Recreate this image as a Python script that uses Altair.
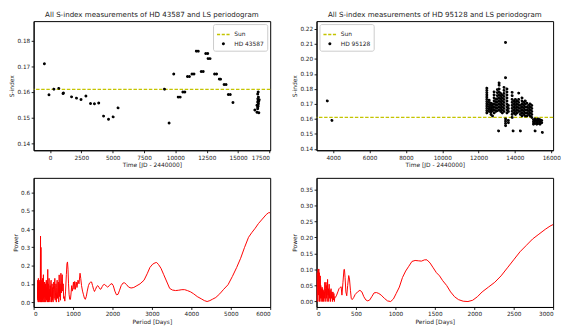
import altair as alt
import pandas as pd

FONT = "DejaVu Sans"
SUN_S = 0.161
SUN_COLOR = "#c4c400"

# ---------------- HD 43587 S-index measurements ----------------
star1 = "HD 43587"
t1 = [-446, -78, 313, 705, 1041, 1070, 1723, 2114, 2474, 2866, 3234, 3547, 3884,
      4275, 4667, 5035, 5426, 9130, 9498, 9866, 10226, 10383, 10594, 10750,
      10962, 11119, 11322, 11479, 11667, 11823, 12058, 12215, 12418, 12575,
      12606, 12763, 13123, 13280, 13500, 13600, 13883, 14039, 14220, 14376,
      14587, 16600, 16560, 16570, 16600, 16560, 16620, 16500, 16560, 16333,
      16500, 16650, 16620, 16640, 16600, 16560, 16680]
s1 = [0.1710, 0.1589, 0.1611, 0.1614, 0.1594, 0.1596, 0.1581, 0.1576, 0.1571,
      0.1584, 0.1555, 0.1554, 0.1557, 0.1506, 0.1494, 0.1503, 0.1538, 0.1611,
      0.1479, 0.1670, 0.1580, 0.1580, 0.1600, 0.1600, 0.1660, 0.1660, 0.1670,
      0.1670, 0.1759, 0.1759, 0.1680, 0.1680, 0.1750, 0.1750, 0.1730, 0.1730,
      0.1670, 0.1670, 0.1650, 0.1650, 0.1629, 0.1629, 0.1590, 0.1590, 0.1559,
      0.1600, 0.1592, 0.1573, 0.1567, 0.1561, 0.1554, 0.1548, 0.1541, 0.1530,
      0.1521, 0.1519, 0.1580, 0.1563, 0.1545, 0.1535, 0.1570]

# ---------------- HD 95128 S-index measurements ----------------
star2 = "HD 95128"
cols2 = [
    (3675, [0.172]),
    (3930, [0.159]),
    (12455, [0.164, 0.1655, 0.167, 0.1685, 0.170, 0.1715, 0.173, 0.1745, 0.176, 0.1775, 0.179, 0.1805]),
    (12585, [0.165, 0.1665, 0.168, 0.1695, 0.171, 0.1725]),
    (12680, [0.163, 0.1645, 0.166, 0.1675, 0.169, 0.1705]),
    (12765, [0.162, 0.1655, 0.167, 0.1685, 0.170]),
    (12855, [0.164, 0.166, 0.168, 0.170, 0.172, 0.174, 0.176, 0.178]),
    (12950, [0.165, 0.167, 0.169, 0.171, 0.173]),
    (13035, [0.1655, 0.1675, 0.1695, 0.1715, 0.1735, 0.1755, 0.1775, 0.1795]),
    (13100, [0.152]),
    (13130, [0.166, 0.168, 0.170, 0.172, 0.174, 0.176, 0.178, 0.180, 0.1825, 0.184]),
    (13215, [0.165, 0.167, 0.169, 0.171, 0.173, 0.175, 0.177]),
    (13306, [0.164, 0.166, 0.168, 0.170, 0.172, 0.174, 0.176]),
    (13400, [0.165, 0.167, 0.169, 0.171, 0.173, 0.175, 0.177, 0.179, 0.181]),
    (13485, [0.211, 0.1875, 0.157, 0.1585, 0.1555, 0.160]),
    (13560, [0.164, 0.166, 0.168, 0.170, 0.172, 0.174, 0.176, 0.178, 0.180]),
    (13640, [0.1575, 0.159, 0.165, 0.167, 0.169]),
    (13848, [0.161, 0.163, 0.165, 0.167, 0.169, 0.171, 0.173, 0.1755, 0.1777]),
    (13900, [0.152]),
    (13940, [0.164, 0.166, 0.168, 0.170, 0.172]),
    (14030, [0.163, 0.165, 0.167, 0.169, 0.171, 0.173]),
    (14120, [0.164, 0.166, 0.168, 0.170, 0.172]),
    (14210, [0.1772, 0.165, 0.167, 0.169, 0.171, 0.173]),
    (14300, [0.152, 0.163, 0.165, 0.167, 0.169]),
    (14390, [0.162, 0.164, 0.166, 0.168, 0.170, 0.172, 0.174]),
    (14480, [0.163, 0.165, 0.167, 0.169, 0.171]),
    (14570, [0.162, 0.164, 0.166, 0.168, 0.170, 0.172]),
    (14660, [0.162, 0.164, 0.166, 0.168, 0.1705]),
    (14750, [0.163, 0.165, 0.167, 0.169]),
    (14840, [0.162, 0.164, 0.166, 0.168, 0.170]),
    (14930, [0.161, 0.163, 0.165, 0.167, 0.169]),
    (15020, [0.1565, 0.158, 0.1595]),
    (15110, [0.152, 0.157, 0.1585, 0.160]),
    (15200, [0.1565, 0.158, 0.1595]),
    (15290, [0.157, 0.1585, 0.160]),
    (15380, [0.1565, 0.158, 0.1595]),
    (15475, [0.1575, 0.159]),
    (15510, [0.151]),
]
t2 = [c[0] for c in cols2 for _ in c[1]]
s2 = [v for c in cols2 for v in c[1]]

# ---------------- LS periodogram HD 43587 ----------------
per1 = [100, 104, 108, 112, 116, 120, 124, 128, 132, 136, 140, 144, 148, 152, 156,
        160, 164, 168, 172, 175, 178, 182, 186, 190, 194, 198, 203, 208, 213, 218,
        223, 228, 233, 238, 243, 248, 253, 258, 263, 268, 273, 279, 285, 291, 297,
        303, 309, 315, 321, 327, 333, 339, 345, 352, 358, 364, 371, 378, 385, 392,
        399, 406, 413, 420, 428, 436, 444, 452, 460, 468, 476, 484, 493, 502, 511,
        520, 529, 538, 547, 556, 566, 576, 586, 596, 606, 616, 626, 637, 648, 659,
        670, 681, 692, 703, 714, 726, 738, 750, 762, 775, 791, 810, 830, 845, 859,
        872, 885, 900, 915, 934, 950, 965, 980, 995, 1010, 1025, 1042, 1060, 1080,
        1100, 1125, 1150, 1177, 1195, 1215, 1240, 1265, 1290, 1310, 1335, 1360,
        1390, 1420, 1450, 1470, 1495, 1520, 1543, 1570, 1600, 1627, 1660, 1690,
        1710, 1740, 1770, 1800, 1840, 1878, 1920, 1960, 1990, 2020, 2060, 2100,
        2140, 2180, 2220, 2270, 2310, 2360, 2410, 2470, 2540, 2620, 2700, 2800,
        2880, 2950, 3020, 3080, 3120, 3170, 3230, 3300, 3380, 3450, 3520, 3600,
        3680, 3760, 3830, 3900, 3980, 4060, 4150, 4250, 4330, 4400, 4470, 4540,
        4620, 4720, 4820, 4930, 5040, 5150, 5250, 5350, 5450, 5530, 5620, 5700,
        5800, 5900, 5960, 6000]
pow1 = [0.02, 0.12, 0.01, 0.08, 0.0, 0.13, 0.03, 0.10, 0.0, 0.06, 0.11, 0.01, 0.09,
        0.02, 0.12, 0.0, 0.07, 0.02, 0.20, 0.362, 0.05, 0.0, 0.30, 0.08, 0.0, 0.10,
        0.02, 0.12, 0.0, 0.08, 0.13, 0.01, 0.07, 0.0, 0.10, 0.15, 0.02, 0.06, 0.0,
        0.09, 0.03, 0.11, 0.0, 0.07, 0.02, 0.10, 0.0, 0.05, 0.12, 0.01, 0.08, 0.03,
        0.11, 0.0, 0.179, 0.02, 0.10, 0.0, 0.06, 0.13, 0.01, 0.07, 0.0, 0.09, 0.03,
        0.11, 0.12, 0.0, 0.06, 0.10, 0.01, 0.08, 0.0, 0.07, 0.11, 0.02, 0.09, 0.13,
        0.01, 0.05, 0.10, 0.0, 0.08, 0.12, 0.02, 0.06, 0.11, 0.0, 0.149, 0.03, 0.10,
        0.01, 0.158, 0.05, 0.12, 0.15, 0.06, 0.10, 0.02, 0.03, 0.005, 0.06, 0.15,
        0.21, 0.22, 0.18, 0.10, 0.04, 0.015, 0.015, 0.05, 0.09, 0.06, 0.08, 0.11,
        0.07, 0.113, 0.07, 0.11, 0.08, 0.12, 0.10, 0.158, 0.13, 0.09, 0.06, 0.04,
        0.02, 0.015, 0.03, 0.06, 0.09, 0.105, 0.11, 0.11, 0.09, 0.07, 0.058, 0.07,
        0.085, 0.09, 0.08, 0.07, 0.072, 0.085, 0.095, 0.097, 0.088, 0.082, 0.09,
        0.10, 0.10, 0.09, 0.06, 0.04, 0.042, 0.065, 0.09, 0.105, 0.105, 0.095,
        0.082, 0.077, 0.08, 0.09, 0.10, 0.12, 0.155, 0.19, 0.208, 0.215, 0.217,
        0.205, 0.185, 0.15, 0.11, 0.075, 0.066, 0.063, 0.065, 0.068, 0.068, 0.063,
        0.056, 0.045, 0.03, 0.018, 0.008, 0.003, 0.008, 0.016, 0.025, 0.045, 0.07,
        0.095, 0.14, 0.19, 0.24, 0.30, 0.355, 0.38, 0.405, 0.43, 0.455, 0.48, 0.49,
        0.49]

# ---------------- LS periodogram HD 95128 ----------------
per2 = [5, 8, 11, 14, 17, 20, 23, 26, 29, 32, 35, 38, 41, 44, 47, 50, 54, 58, 62,
        66, 70, 74, 78, 82, 86, 90, 95, 100, 105, 110, 115, 120, 125, 130, 135,
        140, 145, 150, 155, 160, 166, 172, 178, 184, 190, 196, 202, 208, 214, 220,
        226, 232, 240, 255, 270, 285, 300, 312, 322, 335, 348, 354, 362, 372, 383,
        395, 408, 418, 430, 440, 452, 470, 490, 520, 550, 575, 600, 625, 650, 675,
        700, 730, 760, 790, 820, 860, 900, 940, 975, 1010, 1050, 1090, 1130, 1170,
        1210, 1250, 1290, 1330, 1370, 1400, 1440, 1480, 1520, 1560, 1600, 1650,
        1700, 1750, 1800, 1860, 1920, 1980, 2040, 2100, 2180, 2260, 2340, 2420,
        2500, 2580, 2660, 2740, 2820, 2900, 2960, 3000]
pow2 = [0.0, 0.09, 0.01, 0.06, 0.0, 0.10, 0.02, 0.08, 0.1016, 0.03, 0.09, 0.0, 0.07,
        0.02, 0.08, 0.01, 0.05, 0.0, 0.04, 0.01, 0.045, 0.0, 0.04, 0.02, 0.035, 0.0,
        0.03, 0.01, 0.06, 0.0, 0.04, 0.06, 0.01, 0.05, 0.0, 0.069, 0.02, 0.04, 0.0,
        0.054, 0.01, 0.035, 0.0, 0.04, 0.01, 0.03, 0.0, 0.03, 0.005, 0.025, 0.0,
        0.015, 0.013, 0.02, 0.03, 0.04, 0.044, 0.046, 0.02, 0.06, 0.10, 0.10, 0.075,
        0.03, 0.018, 0.05, 0.081, 0.07, 0.035, 0.01, 0.006, 0.012, 0.022, 0.03,
        0.035, 0.03, 0.015, 0.005, 0.002, 0.005, 0.015, 0.027, 0.028, 0.025, 0.02,
        0.01, 0.002, 0.0, 0.008, 0.025, 0.045, 0.075, 0.095, 0.11, 0.125, 0.128,
        0.127, 0.126, 0.13, 0.13, 0.12, 0.105, 0.09, 0.08, 0.065, 0.05, 0.03, 0.015,
        0.006, 0.001, 0.0, 0.004, 0.015, 0.03, 0.045, 0.06, 0.08, 0.105, 0.13,
        0.155, 0.175, 0.195, 0.21, 0.225, 0.235, 0.24]

W, H = 240, 131
AX = dict(labelFont=FONT, titleFont=FONT, labelFontSize=5.8, titleFontSize=6,
          titleFontWeight="normal", labelColor="#222222", titleColor="#222222",
          tickColor="#222222", domainColor="black", tickSize=2.5, labelPadding=1.5,
          titlePadding=2, grid=False, labelOverlap=False)


def scatter_panel(times, sidx, star, xdom, ydom, xticks, yticks, orient, title):
    df = pd.DataFrame({"t": times, "s": sidx, "label": star})
    dom = ["Sun", star]
    leg = alt.Legend(
        title=None, orient=orient, offset=3, padding=3, cornerRadius=2,
        strokeColor="#cccccc", fillColor="white", labelFont=FONT, labelFontSize=6,
        labelColor="#222222", rowPadding=2, labelOffset=3.5,
    )
    xs = alt.Scale(domain=xdom, nice=False, zero=False)
    ys = alt.Scale(domain=ydom, nice=False, zero=False)
    yaxis = alt.Axis(values=yticks, format=".2f", title="S-index")
    pts = alt.Chart(df).mark_point(filled=False, strokeWidth=1.4, opacity=1, clip=True).encode(
        x=alt.X("t:Q", scale=xs, axis=alt.Axis(values=xticks, format="d",
                                               title="Time [JD - 2440000]")),
        y=alt.Y("s:Q", scale=ys, axis=yaxis),
        color=alt.Color("label:N", scale=alt.Scale(domain=dom, range=[SUN_COLOR, "black"]),
                        legend=leg),
        shape=alt.Shape("label:N", scale=alt.Scale(domain=dom, range=["stroke", "circle"]),
                        legend=leg),
        size=alt.Size("label:N", scale=alt.Scale(domain=dom, range=[169, 2.5]),
                      legend=leg),
        strokeDash=alt.StrokeDash("label:N", scale=alt.Scale(domain=dom, range=[[3.2, 1.6], [1, 0]]),
                                  legend=leg),
    )
    sun = alt.Chart(pd.DataFrame({"y": [SUN_S]})).mark_rule(
        color=SUN_COLOR, strokeDash=[3.5, 1.7], strokeWidth=1.3).encode(
        y=alt.Y("y:Q", scale=ys, axis=yaxis))
    return alt.layer(sun, pts).properties(
        width=W, height=H,
        title=alt.TitleParams(title, frame="group", font=FONT, fontSize=7.2,
                              fontWeight="normal", color="#222222", offset=3))


def pg_panel(per, pw, xdom, ydom, xticks, yticks, yfmt):
    df = pd.DataFrame({"p": per, "w": pw})
    return alt.Chart(df).mark_line(color="red", strokeWidth=1, clip=True).encode(
        x=alt.X("p:Q", scale=alt.Scale(domain=xdom, nice=False, zero=False),
                axis=alt.Axis(values=xticks, format="d", title="Period [Days]")),
        y=alt.Y("w:Q", scale=alt.Scale(domain=ydom, nice=False, zero=False),
                axis=alt.Axis(values=yticks, format=yfmt, title="Power")),
    ).properties(width=W, height=H)


tl = scatter_panel(t1, s1, star1, [-1303, 17557], [0.1373, 0.1876],
                   [0, 2500, 5000, 7500, 10000, 12500, 15000, 17500],
                   [0.14, 0.15, 0.16, 0.17, 0.18], "top-right",
                   "All S-index measurements of HD 43587 and LS periodogram")
tr = scatter_panel(t2, s2, star2, [3083, 16102], [0.1391, 0.2252],
                   [4000, 6000, 8000, 10000, 12000, 14000, 16000],
                   [0.14, 0.15, 0.16, 0.17, 0.18, 0.19, 0.20, 0.21, 0.22], "top-left",
                   "All S-index measurements of HD 95128 and LS periodogram")
bl = pg_panel(per1, pow1, [0, 6000], [-0.027, 0.681],
              [0, 1000, 2000, 3000, 4000, 5000, 6000],
              [0.0, 0.1, 0.2, 0.3, 0.4, 0.5, 0.6], ".1f")
br = pg_panel(per2, pow2, [0, 3000], [-0.017, 0.3855],
              [0, 500, 1000, 1500, 2000, 2500, 3000],
              [0.0, 0.05, 0.10, 0.15, 0.20, 0.25, 0.30, 0.35], ".2f")

chart = alt.concat(tl, tr, bl, br, columns=2, spacing={"row": 28, "column": 47},
                   bounds="flush").properties(
    padding={"left": 0, "top": 0, "right": 0, "bottom": 0},
    background="white",
).configure_view(stroke="black", strokeWidth=1).configure_axis(**AX).resolve_scale(
    color="independent", shape="independent", size="independent", strokeDash="independent")

chart.save("out.html", embed_options={"renderer": "svg", "actions": False})
